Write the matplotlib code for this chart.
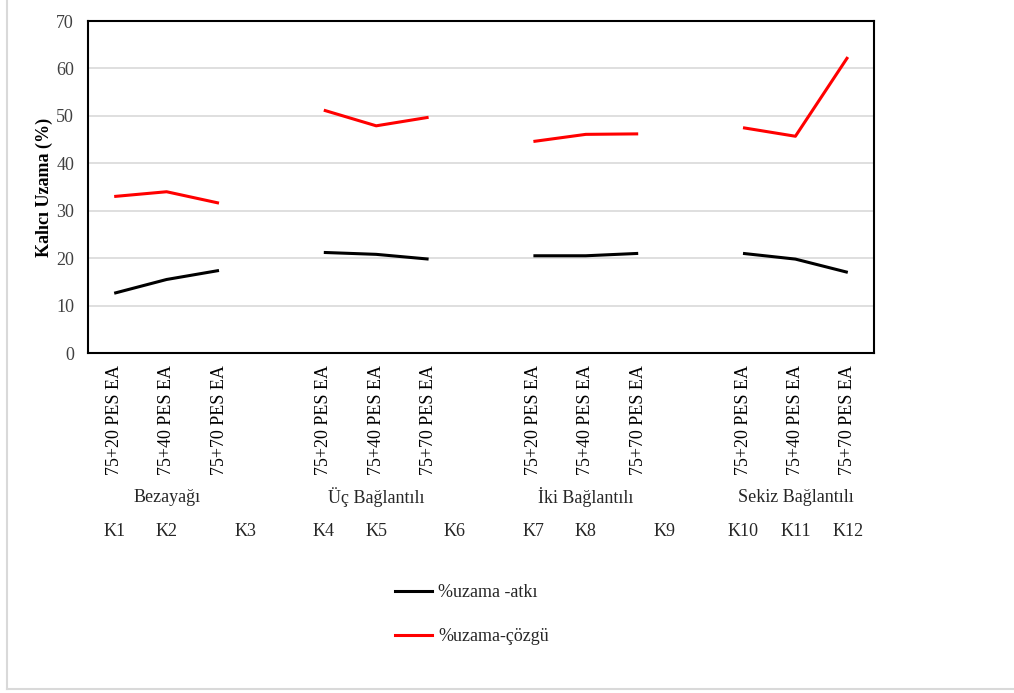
import matplotlib
matplotlib.use("Agg")
import matplotlib.pyplot as plt
import numpy as np
from matplotlib.lines import Line2D

plt.rcParams['font.family'] = ['Liberation Serif', 'DejaVu Serif']

# Sample labels and groups
samples = ["K1", "K2", "K3", "K4", "K5", "K6", "K7", "K8", "K9", "K10", "K11", "K12"]
blends = ["75+20 PES EA", "75+40 PES EA", "75+70 PES EA"]
weaves = ["Bezayağı", "Üç Bağlantılı", "İki Bağlantılı", "Sekiz Bağlantılı"]

# Permanent elongation (%)
atki = [12.6, 15.5, 17.4, 21.2, 20.8, 19.8, 20.5, 20.5, 21.0, 21.0, 19.8, 17.0]
cozgu = [33.0, 34.0, 31.6, 51.2, 47.9, 49.7, 44.6, 46.1, 46.2, 47.5, 45.7, 62.4]

series_names = ["%uzama -atkı", "%uzama-çözgü"]
series_colors = ["black", "#ff0000"]

FS = 13
W, H = 1014, 693
fig = plt.figure(figsize=(W / 100, H / 100), dpi=100)

ax_l, ax_r, ax_t, ax_b = 88, 874, 21, 353
ax = fig.add_axes([ax_l / W, 1 - ax_b / H, (ax_r - ax_l) / W, (ax_b - ax_t) / H])

# Slot layout: three samples per weave, one empty slot between weaves
n_slots = 15
positions = [g * 4 + i for g in range(4) for i in range(3)]

handles = []
for vals, name, col in zip([atki, cozgu], series_names, series_colors):
    y = np.full(n_slots, np.nan)
    y[positions] = vals
    ax.plot(np.arange(n_slots), y, color=col, lw=2.2, solid_capstyle='butt', zorder=3)
    handles.append(Line2D([], [], color=col, lw=2.2))

ax.set_xlim(-0.5, n_slots - 0.5)
ax.set_ylim(0, 70)
ax.set_yticks(np.arange(0, 71, 10))
ax.yaxis.grid(True, color='#d9d9d9', lw=1.2)
ax.set_axisbelow(True)
ax.tick_params(axis='both', length=0, labelsize=FS, colors='#404040')
ax.tick_params(axis='y', pad=10)
ax.set_xticks(positions)
ax.set_xticklabels(blends * 4, rotation=90, fontsize=FS, color='black')
ax.tick_params(axis='x', pad=8.5)
for s in ax.spines.values():
    s.set_color('black')
    s.set_linewidth(1.5)

ax.set_ylabel("Kalıcı Uzama (%)", fontsize=FS, fontweight='bold', labelpad=2)

xform = ax.get_xaxis_transform()

# Weave group names under the sample labels
for g, wname in enumerate(weaves):
    ax.text(g * 4 + 1, 1 - (497 - ax_t) / (ax_b - ax_t), wname, transform=xform,
            ha='center', va='center', fontsize=FS, color='#262626')

# Sample codes
k_pos = [0, 1, 2.5, 4, 5, 6.5, 8, 9, 10.5, 12, 13, 14]
for p, k in zip(k_pos, samples):
    ax.text(p, 1 - (531 - ax_t) / (ax_b - ax_t), k, transform=xform,
            ha='center', va='center', fontsize=FS, color='#262626')

fig.legend(handles, series_names, loc='upper left',
           bbox_to_anchor=(395 / W, 1 - 584 / H), frameon=False,
           borderpad=0, borderaxespad=0, handlelength=2.05, handletextpad=0.35,
           labelspacing=1.5, fontsize=FS, labelcolor='#262626')

# Light frame on the left and bottom of the canvas
fig.add_artist(Line2D([7 / W, 7 / W], [1 - 689 / H, 1], transform=fig.transFigure,
                      color='#d9d9d9', lw=1.5))
fig.add_artist(Line2D([7 / W, 1], [1 - 689 / H, 1 - 689 / H], transform=fig.transFigure,
                      color='#d9d9d9', lw=1.5))

fig.savefig("out.png", dpi=100)
